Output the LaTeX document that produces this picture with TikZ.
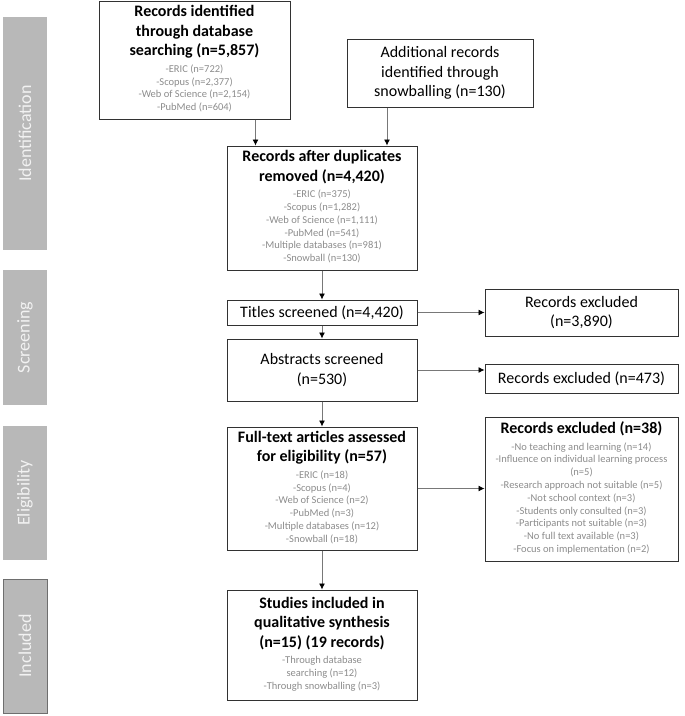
\documentclass[tikz,border=0pt]{standalone}
\usepackage{fontspec}
\setmainfont{Carlito}
\usetikzlibrary{arrows.meta,positioning}
\definecolor{cBar}{RGB}{184,184,184}
\definecolor{cBarTxt}{RGB}{242,242,242}
\definecolor{cBarEdge}{RGB}{110,110,110}
\definecolor{cLine}{RGB}{50,50,50}
\definecolor{cSub}{RGB}{140,140,140}
\definecolor{cArr}{RGB}{120,120,120}
\newcommand{\sublist}[1]{{\mdseries\fontsize{10.5}{12.8}\selectfont\color{cSub}%
  \begin{tabular}[t]{@{}c@{}}#1\end{tabular}}}
\tikzset{
  basebox/.style={rectangle,draw=cLine,line width=1pt,align=center,inner sep=2pt,
                  font=\fontsize{16}{19.5}\selectfont},
  mainnode/.style={basebox,minimum width=190pt},
  boldnode/.style={mainnode,font=\bfseries\fontsize{16}{19.5}\selectfont},
  exclnode/.style={basebox,minimum width=193pt},
  phasebar/.style={rectangle,rotate=90,fill=cBar,minimum height=44pt,
                   text=cBarTxt,font=\fontsize{18}{21}\selectfont},
  arr/.style={-{Latex[length=6pt,width=6pt,color=black]},line width=0.8pt,color=cArr}
}

\begin{document}
\begin{tikzpicture}[x=1pt,y=-1pt]
  \useasboundingbox (0,0) rectangle (685,716);

  % Phase bars
  \node[phasebar,minimum width=233pt] (pid) at (25,133.5) {Identification};
  \node[phasebar,minimum width=135pt] (psc) at (25,337.5) {Screening};
  \node[phasebar,minimum width=134pt] (pel) at (25,493) {Eligibility};
  \node[phasebar,minimum width=134pt,draw=cBarEdge] (pin) at (25,646) {Included};

  % Identification
  \node[boldnode,minimum width=191pt,minimum height=118pt] (db) at (194.5,60)
      {Records identified\\through database\\searching (n=5,857)\\[-3pt]
       \sublist{-ERIC (n=722)\\-Scopus (n=2,377)\\-Web of Science (n=2,154)\\-PubMed (n=604)}};

  \node[mainnode,minimum width=186pt,minimum height=68pt] (snow) at (440,73)
      {Additional records\\identified through\\snowballing (n=130)};

  \node[boldnode,minimum height=124pt] (dup) at (322,208)
      {Records after duplicates\\removed (n=4,420)\\[-3pt]
       \sublist{-ERIC (n=375)\\-Scopus (n=1,282)\\-Web of Science (n=1,111)\\-PubMed (n=541)\\-Multiple databases (n=981)\\-Snowball (n=130)}};

  % Screening
  \node[mainnode,minimum height=25pt] (titles) at (322,312.5) {Titles screened (n=4,420)};
  \node[mainnode,minimum height=62pt] (abs) at (322,370) {Abstracts screened\\(n=530)};
  \node[exclnode,minimum height=47pt] (ex1) at (581.5,312.5) {Records excluded\\(n=3,890)};
  \node[exclnode,minimum height=29pt] (ex2) at (581.5,378.5) {Records excluded (n=473)};

  % Eligibility
  \node[boldnode,minimum height=123pt] (full) at (322,488.5)
      {Full-text articles assessed\\for eligibility (n=57)\\[-3pt]
       \sublist{-ERIC (n=18)\\-Scopus (n=4)\\-Web of Science (n=2)\\-PubMed (n=3)\\-Multiple databases (n=12)\\-Snowball (n=18)}};

  \node[exclnode,minimum height=144pt,font=\bfseries\fontsize{16}{19.5}\selectfont] (ex3) at (581.5,489)
      {Records excluded (n=38)\\[-3pt]
       \sublist{-No teaching and learning (n=14)\\-Influence on individual learning process\\(n=5)\\-Research approach not suitable (n=5)\\-Not school context (n=3)\\-Students only consulted (n=3)\\-Participants not suitable (n=3)\\-No full text available (n=3)\\-Focus on implementation (n=2)}};

  % Included
  \node[boldnode,minimum height=110pt] (inc) at (322,645)
      {Studies included in\\qualitative synthesis\\(n=15) (19 records)\\[-3pt]
       \sublist{-Through database\\searching (n=12)\\-Through snowballing (n=3)}};

  % Arrows
  \draw[arr] ([xshift=61pt]db.south) -- ([xshift=61pt]db.south |- dup.north);
  \draw[arr] ([xshift=-53pt]snow.south) -- ([xshift=-53pt]snow.south |- dup.north);
  \foreach \a/\b in {dup/titles,titles/abs,abs/full,full/inc}
    \draw[arr] (\a) -- (\b);
  \foreach \a/\b in {titles/ex1,abs/ex2,full/ex3}
    \draw[arr] (\a.east) -- (\a.east -| \b.west);

\end{tikzpicture}
\end{document}
